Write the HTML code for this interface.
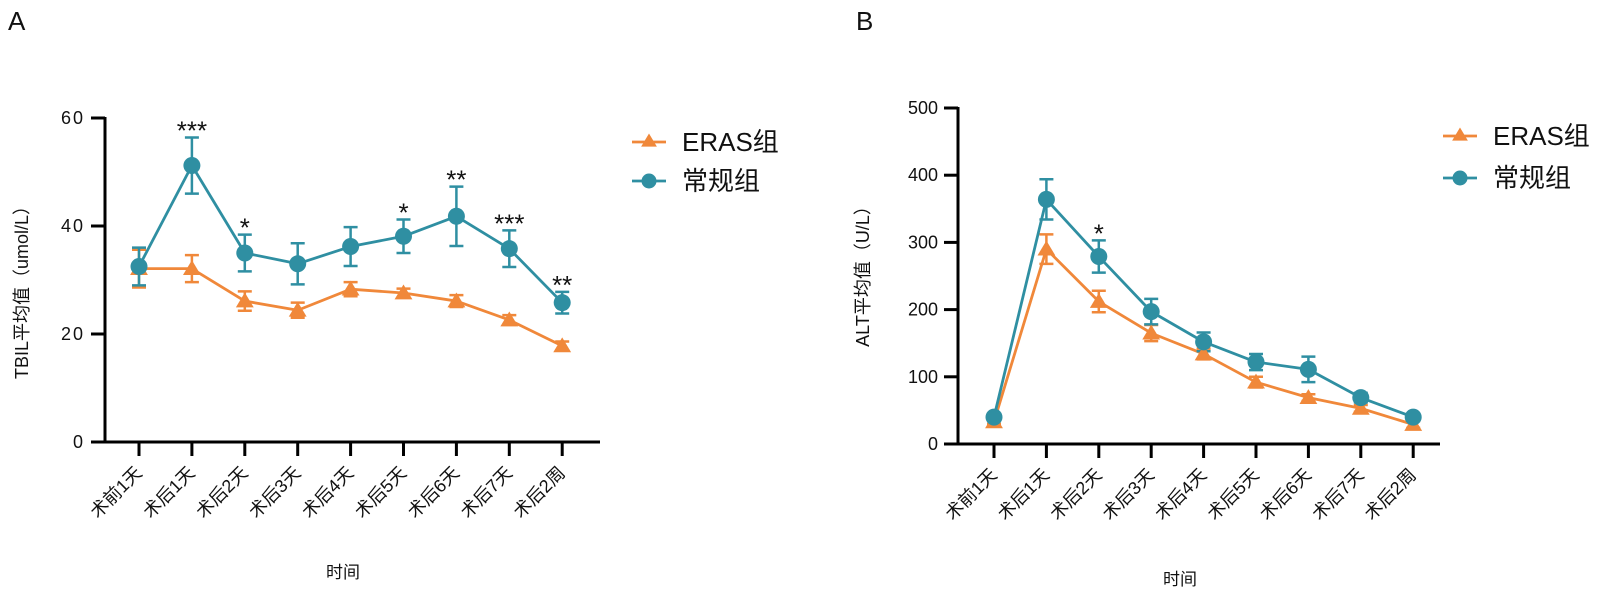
<!DOCTYPE html>
<html><head><meta charset="utf-8">
<style>
html,body{margin:0;padding:0;background:#fff;}
svg{display:block;font-family:"Liberation Sans","Noto Sans CJK SC",sans-serif;}
</style></head>
<body>
<svg id="chart" width="1600" height="602" viewBox="0 0 1600 602" xmlns="http://www.w3.org/2000/svg">
  <text x="8" y="30" font-size="26" fill="#111">A</text>
  <text x="856" y="30" font-size="26" fill="#111">B</text>
  <g id="panelA"></g>
  <g id="panelB"></g>
</svg>
<script>
const categories = ["术前1天","术后1天","术后2天","术后3天","术后4天","术后5天","术后6天","术后7天","术后2周"];
const tbilConventional = [32.5, 51.2, 35.0, 33.0, 36.2, 38.1, 41.8, 35.8, 25.8];
const tbilConventionalErr = [3.5, 5.2, 3.4, 3.8, 3.6, 3.1, 5.5, 3.4, 2.0];
const tbilEras = [32.1, 32.1, 26.1, 24.4, 28.3, 27.6, 26.1, 22.6, 17.8];
const tbilErasErr = [3.5, 2.5, 1.8, 1.4, 1.3, 0.8, 1.1, 0.9, 0.8];
const tbilStars = ["", "***", "*", "", "", "*", "**", "***", "**"];
const tbilTicks = [0, 20, 40, 60];
const altConventional = [40, 364, 279, 197, 152, 122, 111, 69, 40];
const altConventionalErr = [3, 30, 24, 19, 14, 12, 19, 7, 3];
const altEras = [33, 290, 212, 165, 134, 92, 69, 53, 29];
const altErasErr = [3, 22, 16, 12, 8, 8, 5, 5, 5];
const altStars = ["", "", "*", "", "", "", "", "", ""];
const altTicks = [0, 100, 200, 300, 400, 500];

const NS = "http://www.w3.org/2000/svg";
const ORANGE = "#F0883A", TEAL = "#2F8FA2";
function mk(parent, tag, attrs, text){
  const e = document.createElementNS(NS, tag);
  for (const k in attrs) e.setAttribute(k, attrs[k]);
  if (text !== undefined) e.textContent = text;
  parent.appendChild(e);
  return e;
}
function tri(cx, cy, s){
  return `${cx},${cy - s} ${cx - s*1.05},${cy + s*0.75} ${cx + s*1.05},${cy + s*0.75}`;
}
function drawPanel(g, cfg){
  const yS = v => cfg.y0 - (v / cfg.yMax) * (cfg.y0 - cfg.yTop);
  const xS = i => cfg.x0 + i * cfg.dx;
  let e = mk(g, "line", {x1: cfg.ax, y1: cfg.yTop - 1, x2: cfg.ax, y2: cfg.y0 + 1, stroke: "#000", "stroke-width": 3});
  
  
  e = mk(g, "line", {x1: cfg.ax - 14, y1: cfg.y0, x2: cfg.xEnd, y2: cfg.y0, stroke: "#000", "stroke-width": 3});
  
  
  cfg.ticks.forEach(t => {
    const y = yS(t);
    let l = mk(g, "line", {x1: cfg.ax - 14, y1: y, x2: cfg.ax, y2: y, stroke: "#000", "stroke-width": 3});
    
    
    let tx = mk(g, "text", {x: cfg.ax - 20, y: y + 6, "font-size": 18, "text-anchor": "end", fill: "#111", "letter-spacing": cfg.ls}, String(t));
    
    
  });
  categories.forEach((c, i) => {
    const x = xS(i);
    let l = mk(g, "line", {x1: x, y1: cfg.y0, x2: x, y2: cfg.y0 + 14, stroke: "#000", "stroke-width": 3});
    
    
    let tx = mk(g, "text", {x: x + 4, y: cfg.y0 + 32, "font-size": 18, "text-anchor": "end", fill: "#111", transform: `rotate(-45 ${x + 4} ${cfg.y0 + 32})`}, c);
    
    
  });
  let yt = mk(g, "text", {x: cfg.ytx, y: cfg.yty, "font-size": cfg.ytf, "text-anchor": "middle", fill: "#111", transform: `rotate(-90 ${cfg.ytx} ${cfg.yty})`}, cfg.yTitle);
  
  
  let xt = mk(g, "text", {x: cfg.xtx, y: cfg.xty, "font-size": 17, "text-anchor": "middle", fill: "#111"}, "时间");
  
  

  const series = [
    {vals: cfg.eras, err: cfg.erasErr, color: ORANGE, name: "eras"},
    {vals: cfg.conv, err: cfg.convErr, color: TEAL, name: "conventional"}
  ];
  series.forEach(s => {
    const pts = s.vals.map((v, i) => `${xS(i)},${yS(v)}`).join(" ");
    let pl = mk(g, "polyline", {points: pts, fill: "none", stroke: s.color, "stroke-width": 2.8, "stroke-linejoin": "round"});
    
    
    s.vals.forEach((v, i) => {
      const x = xS(i), yt2 = yS(v + s.err[i]), yb = yS(v - s.err[i]);
      const eb = mk(g, "path", {d: `M${x},${yt2}V${yb}M${x - 7},${yt2}H${x + 7}M${x - 7},${yb}H${x + 7}`, stroke: s.color, "stroke-width": 2.5, fill: "none"});
      
      
    });
  });
  series.forEach(s => {
    s.vals.forEach((v, i) => {
      const x = xS(i), y = yS(v);
      let m;
      if (s.name === "eras") m = mk(g, "polygon", {points: tri(x, y, 8.5), fill: s.color});
      else m = mk(g, "circle", {cx: x, cy: y, r: 8.5, fill: s.color});
      
      
    });
  });
  cfg.stars.forEach((st, i) => {
    if (!st) return;
    const top = yS(cfg.conv[i] + cfg.convErr[i]);
    let t = mk(g, "text", {x: xS(i), y: top + 2, "font-size": 26, "text-anchor": "middle", fill: "#111"}, st);
    
    
  });
  const L = cfg.leg;
  const items = [["ERAS组", ORANGE, "eras"], ["常规组", TEAL, "conventional"]];
  items.forEach((it, k) => {
    const y = L.y + k * L.dy;
    let ln = mk(g, "line", {x1: L.x, y1: y, x2: L.x + 34, y2: y, stroke: it[1], "stroke-width": 2.8});
    
    
    let m;
    if (k === 0) m = mk(g, "polygon", {points: tri(L.x + 17, y - 1, 7.5), fill: it[1]});
    else m = mk(g, "circle", {cx: L.x + 17, cy: y, r: 7.5, fill: it[1]});
    
    
    let t = mk(g, "text", {x: L.tx, y: y + 9, "font-size": 26, fill: "#111"}, it[0]);
    
    
  });
}
drawPanel(document.getElementById("panelA"), {
  ax: 105, y0: 442, yTop: 118, yMax: 60, x0: 139, dx: 52.9, xEnd: 600,
  ticks: tbilTicks, ls: 2,
  conv: tbilConventional, convErr: tbilConventionalErr, eras: tbilEras, erasErr: tbilErasErr, stars: tbilStars,
  yTitle: "TBIL平均值（umol/L）", ytf: 18, ytx: 28, yty: 288, xtx: 343, xty: 578,
  leg: {x: 632, y: 142, dy: 39, tx: 682}
});
drawPanel(document.getElementById("panelB"), {
  ax: 958, y0: 444, yTop: 108, yMax: 500, x0: 994, dx: 52.4, xEnd: 1440,
  ticks: altTicks, ls: 0,
  conv: altConventional, convErr: altConventionalErr, eras: altEras, erasErr: altErasErr, stars: altStars,
  yTitle: "ALT平均值（U/L）", ytf: 18, ytx: 869, yty: 272, xtx: 1180, xty: 585,
  leg: {x: 1443, y: 136, dy: 42, tx: 1493}
});
</script>
</body></html>
